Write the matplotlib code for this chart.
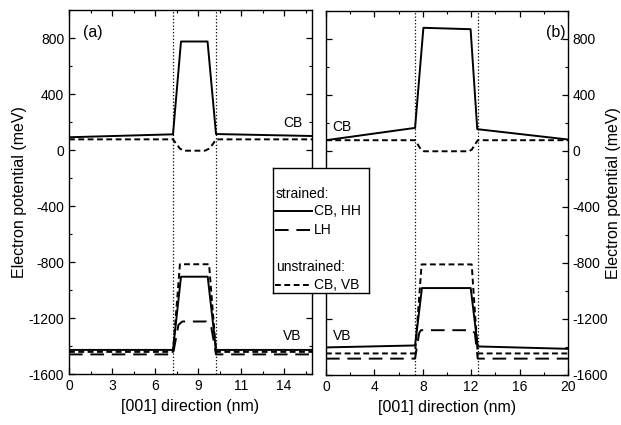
import matplotlib.pyplot as plt
from matplotlib.ticker import MultipleLocator
import numpy as np

plt.rcParams['font.family'] = ['Liberation Sans', 'DejaVu Sans']
plt.rcParams['axes.unicode_minus'] = False

# ---- panel (a) data ----
a_xmax = 16.1
a_well = [6.89, 9.74]
a_ticks = [0, 2.85, 5.7, 8.55, 11.4, 14.25]
a_ticklabels = ['0', '3', '6', '9', '11', '14']

a_cb_x = [0, 6.89, 7.42, 9.18, 9.74, 16.1]
a_cb_y = [91, 112, 775, 775, 114, 100]
a_cbu_x = [0, 6.89, 7.1, 7.35, 7.6, 9.0, 9.3, 9.55, 9.74, 16.1]
a_cbu_y = [76, 76, 45, 10, -5, -5, 10, 45, 76, 76]
a_hh_x = [0, 6.89, 7.42, 9.19, 9.74, 16.1]
a_hh_y = [-1428, -1428, -905, -905, -1428, -1428]
a_lh_x = [0, 6.89, 7.25, 7.5, 9.1, 9.4, 9.74, 16.1]
a_lh_y = [-1460, -1460, -1250, -1225, -1225, -1250, -1460, -1460]
a_vbu_x = [0, 6.89, 7.35, 9.28, 9.74, 16.1]
a_vbu_y = [-1442, -1442, -816, -816, -1442, -1442]

# ---- panel (b) data ----
b_well = [7.36, 12.54]
b_cb_x = [0, 7.36, 8.05, 11.95, 12.5, 20]
b_cb_y = [77, 165, 880, 870, 156, 82]
b_cbu_x = [0, 7.36, 7.6, 7.85, 8.1, 11.8, 12.05, 12.3, 12.54, 20]
b_cbu_y = [77, 77, 45, 10, -2, -2, 10, 45, 77, 77]
b_hh_x = [0, 7.36, 7.93, 11.96, 12.54, 20]
b_hh_y = [-1403, -1389, -979, -979, -1396, -1413]
b_lh_x = [0, 7.36, 7.7, 7.85, 12.04, 12.3, 12.54, 20]
b_lh_y = [-1483, -1483, -1300, -1280, -1280, -1300, -1483, -1483]
b_vbu_x = [0, 7.36, 7.9, 12.04, 12.54, 20]
b_vbu_y = [-1446, -1446, -810, -810, -1446, -1446]

LW = 1.4
dash_lh = (0, (7, 4))
dash_u = (0, (3, 1.8))

fig = plt.figure(figsize=(6.21, 4.25), dpi=100)
ax1 = fig.add_axes([69/621, 1 - 374/425, 243/621, 364/425])
ax2 = fig.add_axes([326/621, 1 - 375/425, 242/621, 364/425])


def style(ax):
    ax.set_ylim(-1600, 1000)
    ax.set_yticks([-1600, -1200, -800, -400, 0, 400, 800])
    ax.yaxis.set_minor_locator(MultipleLocator(200))
    ax.tick_params(which='both', direction='in', top=True, bottom=True,
                   left=True, right=True, labelsize=10)
    ax.tick_params(which='major', length=4, width=0.9)
    ax.tick_params(which='minor', length=2.5, width=0.8)
    for s in ax.spines.values():
        s.set_linewidth(1.0)
    ax.set_xlabel('[001] direction (nm)', fontsize=11.5)
    ax.set_ylabel('Electron potential (meV)', fontsize=11.5)


# panel (a)
for xw in a_well:
    ax1.axvline(xw, color='k', ls=':', lw=0.9)
ax1.plot(a_cb_x, a_cb_y, 'k-', lw=LW)
ax1.plot(a_cbu_x, a_cbu_y, 'k', ls=dash_u, lw=LW)
ax1.plot(a_hh_x, a_hh_y, 'k-', lw=LW)
ax1.plot(a_lh_x, a_lh_y, 'k', ls=dash_lh, lw=LW)
ax1.plot(a_vbu_x, a_vbu_y, 'k', ls=dash_u, lw=LW)
ax1.set_xlim(0, a_xmax)
ax1.set_xticks(a_ticks)
ax1.set_xticklabels(a_ticklabels)
ax1.xaxis.set_minor_locator(MultipleLocator(1.425))
style(ax1)
ax1.text(0.9, 836, '(a)', fontsize=11.5, va='center')
ax1.text(15.5, 193, 'CB', fontsize=10, ha='right', va='center')
ax1.text(15.4, -1329, 'VB', fontsize=10, ha='right', va='center')

# panel (b)
for xw in b_well:
    ax2.axvline(xw, color='k', ls=':', lw=0.9)
ax2.plot(b_cb_x, b_cb_y, 'k-', lw=LW)
ax2.plot(b_cbu_x, b_cbu_y, 'k', ls=dash_u, lw=LW)
ax2.plot(b_hh_x, b_hh_y, 'k-', lw=LW)
ax2.plot(b_lh_x, b_lh_y, 'k', ls=dash_lh, lw=LW)
ax2.plot(b_vbu_x, b_vbu_y, 'k', ls=dash_u, lw=LW)
ax2.set_xlim(0, 20)
ax2.set_xticks([0, 4, 8, 12, 16, 20])
ax2.xaxis.set_minor_locator(MultipleLocator(2))
style(ax2)
ax2.yaxis.set_label_position('right')
ax2.tick_params(labelleft=False, labelright=True)
ax2.text(19.8, 845, '(b)', fontsize=11.5, ha='right', va='center')
ax2.text(0.55, 170, 'CB', fontsize=10, va='center')
ax2.text(0.55, -1319, 'VB', fontsize=10, va='center')

ax1.yaxis.set_label_coords(-0.172, 0.5)
ax2.yaxis.set_label_coords(1.158, 0.5)
ax1.xaxis.set_label_coords(0.5, -0.07)
ax2.xaxis.set_label_coords(0.5, -0.07)

# legend box drawn on an overlay axes
lg = fig.add_axes([273/621, 1 - 293/425, 96/621, 125/425])
lg.set_xlim(0, 96)
lg.set_ylim(125, 0)
lg.set_xticks([])
lg.set_yticks([])
lg.set_facecolor('white')
for s in lg.spines.values():
    s.set_linewidth(1.0)
lg.text(3, 26, 'strained:', fontsize=10, va='center')
lg.plot([2, 39], [43, 43], 'k-', lw=LW)
lg.text(41, 43, 'CB, HH', fontsize=10, va='center')
lg.plot([2, 39], [62, 62], 'k', ls=dash_lh, lw=LW)
lg.text(41, 62, 'LH', fontsize=10, va='center')
lg.text(3, 99, 'unstrained:', fontsize=10, va='center')
lg.plot([2, 39], [117, 117], 'k', ls=dash_u, lw=LW)
lg.text(41, 117, 'CB, VB', fontsize=10, va='center')

fig.savefig('out.png', dpi=100)
